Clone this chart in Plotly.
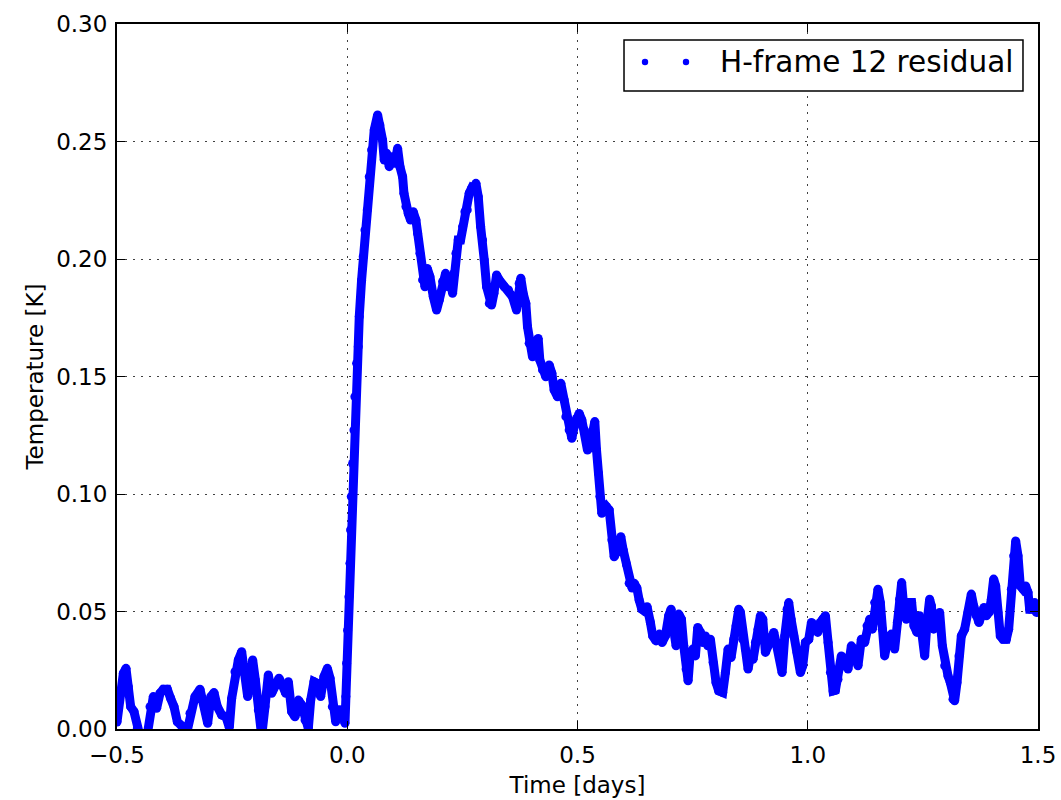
import plotly.graph_objects as go

# H-frame 12 residual temperature vs. time relative to the event
time_days = [
    -0.5000, -0.4935, -0.4862, -0.4805, -0.4754, -0.4703, -0.4631, -0.4558, -0.4464, -0.4356,
    -0.4283, -0.4211, -0.4139, -0.4066, -0.3994, -0.3907, -0.3835, -0.3762, -0.3690, -0.3596,
    -0.3502, -0.3415, -0.3306, -0.3198, -0.3104, -0.3031, -0.2959, -0.2894, -0.2821, -0.2727,
    -0.2633, -0.2561, -0.2510, -0.2438, -0.2365, -0.2293, -0.2220, -0.2162, -0.2112, -0.2054,
    -0.1996, -0.1931, -0.1858, -0.1786, -0.1714, -0.1641, -0.1554, -0.1482, -0.1410, -0.1337,
    -0.1279, -0.1207, -0.1135, -0.1062, -0.0990, -0.0917, -0.0845, -0.0794, -0.0722, -0.0650,
    -0.0577, -0.0505, -0.0432, -0.0374, -0.0324, -0.0251, -0.0179, -0.0107, -0.0049, -0.0030,
    -0.0014, 0.0007, 0.0036, 0.0058, 0.0072, 0.0087, 0.0116, 0.0145, 0.0166, 0.0203,
    0.0239, 0.0261, 0.0311, 0.0347, 0.0384, 0.0434, 0.0478, 0.0528, 0.0586, 0.0659,
    0.0709, 0.0767, 0.0803, 0.0854, 0.0912, 0.0970, 0.1035, 0.1093, 0.1144, 0.1202,
    0.1231, 0.1274, 0.1325, 0.1375, 0.1433, 0.1491, 0.1527, 0.1578, 0.1636, 0.1687,
    0.1737, 0.1795, 0.1868, 0.1940, 0.1998, 0.2070, 0.2135, 0.2193, 0.2244, 0.2287,
    0.2316, 0.2360, 0.2410, 0.2461, 0.2505, 0.2555, 0.2606, 0.2649, 0.2700, 0.2751,
    0.2794, 0.2845, 0.2896, 0.2939, 0.2975, 0.3026, 0.3084, 0.3134, 0.3185, 0.3243,
    0.3299, 0.3408, 0.3502, 0.3588, 0.3675, 0.3733, 0.3769, 0.3820, 0.3878, 0.3914,
    0.3950, 0.4023, 0.4081, 0.4146, 0.4182, 0.4240, 0.4312, 0.4385, 0.4443, 0.4493,
    0.4566, 0.4638, 0.4710, 0.4747, 0.4819, 0.4877, 0.4928, 0.4978, 0.5036, 0.5094,
    0.5152, 0.5217, 0.5268, 0.5326, 0.5376, 0.5413, 0.5456, 0.5485, 0.5528, 0.5579,
    0.5630, 0.5688, 0.5746, 0.5796, 0.5869, 0.5941, 0.5992, 0.6064, 0.6122, 0.6185,
    0.6231, 0.6289, 0.6339, 0.6397, 0.6469, 0.6511, 0.6583, 0.6634, 0.6706, 0.6778,
    0.6837, 0.6909, 0.6981, 0.7032, 0.7075, 0.7141, 0.7199, 0.7257, 0.7307, 0.7358,
    0.7402, 0.7438, 0.7503, 0.7561, 0.7611, 0.7669, 0.7720, 0.7778, 0.7829, 0.7886,
    0.7944, 0.8009, 0.8067, 0.8154, 0.8212, 0.8270, 0.8335, 0.8393, 0.8444, 0.8502,
    0.8538, 0.8588, 0.8646, 0.8704, 0.8755, 0.8813, 0.8863, 0.8921, 0.8972, 0.9023,
    0.9081, 0.9139, 0.9204, 0.9262, 0.9312, 0.9370, 0.9443, 0.9501, 0.9551, 0.9587,
    0.9638, 0.9696, 0.9768, 0.9841, 0.9891, 0.9949, 1.0022, 1.0080, 1.0152, 1.0217,
    1.0275, 1.0326, 1.0384, 1.0442, 1.0492, 1.0550, 1.0600, 1.0657, 1.0729, 1.0802,
    1.0874, 1.0947, 1.1019, 1.1091, 1.1164, 1.1236, 1.1287, 1.1345, 1.1403, 1.1453,
    1.1525, 1.1576, 1.1619, 1.1670, 1.1742, 1.1814, 1.1887, 1.1945, 1.1995, 1.2039,
    1.2082, 1.2140, 1.2198, 1.2256, 1.2307, 1.2372, 1.2430, 1.2488, 1.2539, 1.2590,
    1.2647, 1.2684, 1.2734, 1.2807, 1.2865, 1.2923, 1.2974, 1.3046, 1.3096, 1.3154,
    1.3190, 1.3241, 1.3284, 1.3335, 1.3407, 1.3480, 1.3552, 1.3603, 1.3660, 1.3718,
    1.3769, 1.3827, 1.3878, 1.3936, 1.3987, 1.4037, 1.4081, 1.4131, 1.4182, 1.4240,
    1.4312, 1.4363, 1.4421, 1.4471, 1.4515, 1.4566, 1.4616, 1.4674, 1.4732, 1.4783,
    1.4819, 1.4877, 1.4928, 1.4964, 1.5000,
]

temperature_k = [
    0.0030, 0.0150, 0.0237, 0.0258, 0.0180, 0.0095, 0.0074, 0.0003, -0.0060, -0.0040,
    0.0095, 0.0138, 0.0088, 0.0152, 0.0169, 0.0169, 0.0130, 0.0095, 0.0031, 0.0013,
    -0.0030, 0.0067, 0.0138, 0.0169, 0.0095, 0.0024, 0.0138, 0.0155, 0.0095, 0.0060,
    0.0052, 0.0007, 0.0130, 0.0244, 0.0294, 0.0329, 0.0251, 0.0138, 0.0223, 0.0294,
    0.0209, 0.0081, -0.0030, 0.0095, 0.0230, 0.0152, 0.0187, 0.0216, 0.0187, 0.0152,
    0.0201, 0.0074, 0.0052, 0.0123, 0.0102, 0.0038, 0.0003, 0.0123, 0.0201, 0.0194,
    0.0138, 0.0223, 0.0258, 0.0216, 0.0095, 0.0031, 0.0081, 0.0081, 0.0024, 0.0138,
    0.0280, 0.0420, 0.0563, 0.0705, 0.0847, 0.0989, 0.1130, 0.1272, 0.1414, 0.1556,
    0.1627, 0.1755, 0.1910, 0.2010, 0.2123, 0.2209, 0.2350, 0.2464, 0.2549, 0.2613,
    0.2570, 0.2506, 0.2421, 0.2450, 0.2393, 0.2435, 0.2407, 0.2471, 0.2393, 0.2350,
    0.2280, 0.2223, 0.2194, 0.2166, 0.2201, 0.2166, 0.2109, 0.2024, 0.1911, 0.1882,
    0.1960, 0.1925, 0.1840, 0.1783, 0.1826, 0.1904, 0.1939, 0.1882, 0.1911, 0.1854,
    0.1939, 0.2024, 0.2081, 0.2081, 0.2138, 0.2201, 0.2209, 0.2280, 0.2301, 0.2294,
    0.2322, 0.2265, 0.2138, 0.2081, 0.1996, 0.1882, 0.1811, 0.1804, 0.1854, 0.1932,
    0.1911, 0.1882, 0.1868, 0.1840, 0.1783, 0.1896, 0.1918, 0.1854, 0.1811, 0.1712,
    0.1641, 0.1584, 0.1641, 0.1662, 0.1570, 0.1528, 0.1499, 0.1549, 0.1514, 0.1443,
    0.1414, 0.1471, 0.1400, 0.1329, 0.1272, 0.1237, 0.1287, 0.1322, 0.1343, 0.1315,
    0.1272, 0.1187, 0.1201, 0.1244, 0.1308, 0.1187, 0.1088, 0.0989, 0.0918, 0.0932,
    0.0946, 0.0932, 0.0804, 0.0733, 0.0762, 0.0818, 0.0762, 0.0700, 0.0620, 0.0600,
    0.0620, 0.0600, 0.0549, 0.0510, 0.0500, 0.0520, 0.0453, 0.0396, 0.0375, 0.0404,
    0.0368, 0.0396, 0.0482, 0.0510, 0.0439, 0.0354, 0.0489, 0.0467, 0.0354, 0.0255,
    0.0205, 0.0297, 0.0340, 0.0311, 0.0432, 0.0411, 0.0368, 0.0396, 0.0354, 0.0382,
    0.0283, 0.0198, 0.0162, 0.0155, 0.0240, 0.0340, 0.0304, 0.0382, 0.0439, 0.0510,
    0.0496, 0.0382, 0.0340, 0.0255, 0.0311, 0.0297, 0.0368, 0.0425, 0.0482, 0.0467,
    0.0326, 0.0354, 0.0382, 0.0411, 0.0368, 0.0326, 0.0240, 0.0396, 0.0510, 0.0538,
    0.0467, 0.0396, 0.0326, 0.0240, 0.0269, 0.0368, 0.0382, 0.0453, 0.0439, 0.0411,
    0.0453, 0.0467, 0.0482, 0.0368, 0.0240, 0.0162, 0.0165, 0.0212, 0.0311, 0.0297,
    0.0255, 0.0354, 0.0326, 0.0269, 0.0382, 0.0368, 0.0439, 0.0467, 0.0425, 0.0538,
    0.0595, 0.0538, 0.0425, 0.0311, 0.0382, 0.0404, 0.0340, 0.0453, 0.0552, 0.0623,
    0.0524, 0.0467, 0.0538, 0.0538, 0.0439, 0.0411, 0.0482, 0.0411, 0.0311, 0.0453,
    0.0552, 0.0524, 0.0425, 0.0439, 0.0496, 0.0354, 0.0269, 0.0226, 0.0198, 0.0127,
    0.0120, 0.0198, 0.0311, 0.0396, 0.0425, 0.0496, 0.0574, 0.0524, 0.0482, 0.0453,
    0.0482, 0.0517, 0.0482, 0.0496, 0.0552, 0.0638, 0.0609, 0.0496, 0.0396, 0.0382,
    0.0382, 0.0425, 0.0595, 0.0737, 0.0800, 0.0737, 0.0609, 0.0595, 0.0609, 0.0581,
    0.0510, 0.0510, 0.0538, 0.0496, 0.0510,
]

x_tick_vals = [-0.5, 0.0, 0.5, 1.0, 1.5]
x_tick_text = ["\u22120.5", "0.0", "0.5", "1.0", "1.5"]
y_tick_vals = [0.00, 0.05, 0.10, 0.15, 0.20, 0.25, 0.30]

series_name = "H-frame 12 residual"
blue = "#0000ff"
font_family = "DejaVu Sans, Arial, sans-serif"

fig = go.Figure()
fig.add_trace(go.Scatter(
    x=time_days,
    y=temperature_k,
    mode="lines+markers",
    name=series_name,
    line=dict(color=blue, width=9, shape="linear"),
    marker=dict(color=blue, size=9, line=dict(width=0)),
    showlegend=False,
    hoverinfo="x+y",
))

axis_common = dict(
    showline=True,
    linecolor="black",
    linewidth=2,
    mirror="ticks",
    ticks="inside",
    ticklen=8,
    tickwidth=1,
    tickcolor="black",
    showgrid=True,
    gridcolor="rgba(0,0,0,0.75)",
    gridwidth=1,
    griddash="2px,6px",
    zeroline=False,
    automargin=False,
    tickfont=dict(family=font_family, size=23, color="black"),
)

fig.update_xaxes(
    range=[-0.5, 1.5],
    tickmode="array",
    tickvals=x_tick_vals,
    ticktext=x_tick_text,
    title=dict(text="Time [days]", font=dict(family=font_family, size=23, color="black"), standoff=10),
    ticklabelstandoff=4,
    **axis_common,
)
fig.update_yaxes(
    range=[0, 0.30],
    tickmode="array",
    tickvals=y_tick_vals,
    tickformat=".2f",
    title=dict(text="Temperature [K]", font=dict(family=font_family, size=23, color="black"), standoff=6),
    ticklabelstandoff=3,
    **axis_common,
)

# Legend box drawn in paper coordinates: frame, two sample dots and label
legend_box = dict(x0=0.5505, x1=0.9837, y0=0.905, y1=0.9773)
legend_dot_x = [0.5733, 0.6178]
legend_dot_y = 0.9461

shapes = [dict(
    type="rect", xref="paper", yref="paper",
    x0=legend_box["x0"], x1=legend_box["x1"], y0=legend_box["y0"], y1=legend_box["y1"],
    line=dict(color="black", width=1.5), fillcolor="white", layer="above",
)]
for dx in legend_dot_x:
    shapes.append(dict(
        type="circle", xref="paper", yref="paper",
        xsizemode="pixel", ysizemode="pixel",
        xanchor=dx, yanchor=legend_dot_y,
        x0=-3.2, x1=3.2, y0=-3.2, y1=3.2,
        line=dict(color=blue, width=0), fillcolor=blue, layer="above",
    ))

fig.update_layout(
    width=1061,
    height=800,
    margin=dict(l=117, r=23, t=24, b=71),
    paper_bgcolor="white",
    plot_bgcolor="white",
    font=dict(family=font_family, color="black"),
    shapes=shapes,
    annotations=[dict(
        xref="paper", yref="paper",
        x=0.6525, y=legend_dot_y,
        xanchor="left", yanchor="middle",
        text=series_name, showarrow=False,
        font=dict(family=font_family, size=29.5, color="black"),
    )],
    showlegend=False,
)

fig.write_html("out.html")
